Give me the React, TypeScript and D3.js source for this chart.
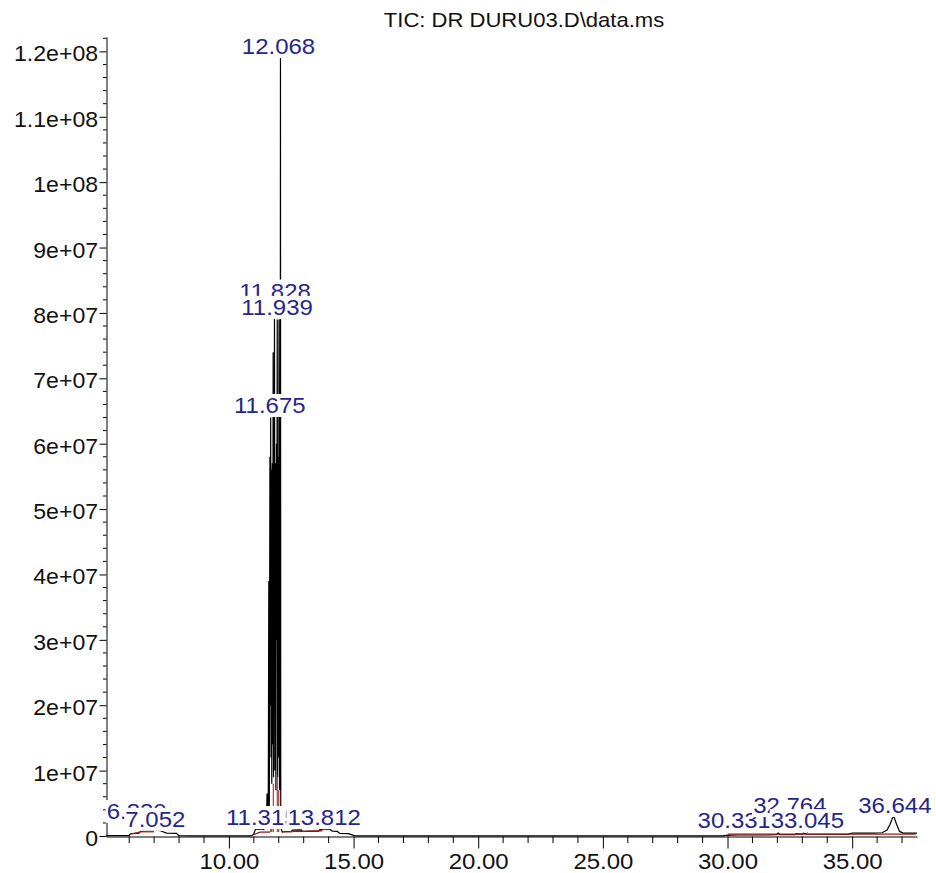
import React, { useEffect, useRef } from "react";
import * as d3 from "d3";

// TIC trace, retention time (min) vs abundance (millions of counts)
const retentionTimes = [
  5.07, 6.0, 6.05, 6.4, 6.45, 6.83, 6.95, 7.05, 7.25, 7.5, 7.9, 7.98, 8.5,
  10.9, 11.0, 11.05, 11.1, 11.2, 11.3, 11.4, 11.45, 11.48, 11.5, 11.53, 11.55, 11.58,
  11.6, 11.62, 11.645, 11.66, 11.675, 11.69, 11.705, 11.72, 11.74, 11.755, 11.775, 11.79,
  11.805, 11.815, 11.828, 11.845, 11.87, 11.885, 11.905, 11.917, 11.939, 11.955, 11.975,
  11.99, 12.01, 12.03, 12.045, 12.055, 12.068, 12.08, 12.1, 12.15, 12.2, 12.5, 12.55,
  12.9, 12.95, 13.6, 13.65, 14.05, 14.15, 14.35, 14.45, 14.8, 15.05,
  29.8, 29.95, 30.4, 31.5, 31.95, 32.03, 32.1, 32.7, 32.76, 33.0, 33.05, 33.2, 34.8,
  35.0, 35.9, 36.2, 36.4, 36.52, 36.62, 36.68, 36.78, 36.9, 37.05, 37.6,
];
const abundance = [
  0.05, 0.05, 0.35, 0.45, 0.75, 0.9, 0.85, 0.95, 0.8, 0.45, 0.4, 0.05, 0.02,
  0.02, 0.3, 0.9, 1.1, 1.0, 1.1, 1.0, 1.6, 4.5, 1.8, 6.5, 2.0, 6.5,
  39, 4, 58, 20, 64, 12, 56, 8, 57, 14, 74, 9,
  58, 25, 79.5, 10, 57, 7, 60, 30, 79, 9, 58,
  12, 79, 7, 40, 8, 119, 2, 1.0, 0.6, 0.65, 0.7, 0.9,
  0.95, 0.7, 0.75, 1.0, 1.0, 0.75, 0.7, 0.4, 0.35, 0.02,
  0.02, 0.1, 0.15, 0.15, 0.2, 0.45, 0.2, 0.2, 0.35, 0.3, 0.45, 0.3, 0.25,
  0.45, 0.45, 0.5, 0.9, 1.8, 2.8, 2.9, 1.8, 0.7, 0.45, 0.45,
];

// integration baselines [t0, v0, t1, v1]
const baselineSegments = [
  [6.03, 0.3, 6.45, 0.6],
  [6.45, 0.65, 7.0, 0.65],
  [11.0, 0.2, 11.25, 0.6],
  [11.25, 0.6, 11.65, 0.6],
  [12.1, 0.65, 12.55, 0.65],
  [12.55, 0.7, 13.1, 0.7],
  [13.1, 0.75, 13.75, 0.8],
  [13.75, 1.0, 14.05, 1.0],
  [30.0, 0.3, 37.55, 0.3],
];
const dropTimes = [11.68, 11.72, 11.78, 11.94, 12.0, 32.03, 33.2];
const dropTops = [1.5, 1.5, 8, 9.5, 7, 0.5, 0.5];

const peakLabels = ["6.830", "7.052", "11.315", "13.812", "11.675", "11.828", "11.939", "12.068", "30.331", "32.764", "33.045", "36.644"];
const peakLabelTimes = [6.3, 7.05, 11.32, 13.82, 11.64, 11.85, 11.93, 11.99, 30.27, 32.5, 33.2, 36.71];
const peakLabelLevels = [2.6, 1.4, 1.68, 1.7, 64.7, 82.2, 79.7, 119.6, 1.2, 3.5, 1.2, 3.5];

const xMajorTicks = [10, 15, 20, 25, 30, 35];
const xTickLabels = ["10.00", "15.00", "20.00", "25.00", "30.00", "35.00"];
const yMajorTicks = [0, 10, 20, 30, 40, 50, 60, 70, 80, 90, 100, 110, 120];
const yTickLabels = ["0", "1e+07", "2e+07", "3e+07", "4e+07", "5e+07", "6e+07", "7e+07", "8e+07", "9e+07", "1e+08", "1.1e+08", "1.2e+08"];
const chartTitle = "TIC: DR DURU03.D\\data.ms";

const FONT = "'Liberation Sans', Arial, sans-serif";
const STRETCH = "scale(1.09,1)"; // the original's text is a little wide

export default function App() {
  const ref = useRef<SVGSVGElement>(null);

  useEffect(() => {
    const svg = d3.select(ref.current);
    svg.selectAll("*").remove();

    const x = d3.scaleLinear().domain([5.07, 37.6]).range([106, 917]);
    const y = d3.scaleLinear().domain([0, 122.2]).range([836, 37]);

    svg.append("rect").attr("width", 936).attr("height", 873).attr("fill", "#fff");

    // title
    svg.append("text").attr("transform", "translate(524,27) scale(1.05,1)").attr("text-anchor", "middle")
      .attr("font-family", FONT).attr("font-size", 21).attr("fill", "#111").text(chartTitle);

    // y axis
    const yAxis = svg.append("g").attr("transform", "translate(106.5,0)")
      .call(d3.axisLeft(y).tickValues(yMajorTicks).tickFormat((d, i) => yTickLabels[i])
        .tickSize(7).tickSizeOuter(0).tickPadding(1));
    yAxis.selectAll("text").attr("font-family", FONT).attr("font-size", 22).attr("fill", "#111")
      .attr("dy", "0.43em").attr("transform", "scale(1.05,1)");
    yAxis.select(".domain").attr("stroke", "#000");
    const yMinor = d3.range(0, 123, 2).filter((v) => v % 10 !== 0);
    svg.append("g").selectAll("line").data(yMinor).enter().append("line")
      .attr("x1", 103).attr("x2", 106.5).attr("y1", (d) => y(d)).attr("y2", (d) => y(d)).attr("stroke", "#000");

    // x axis
    const xAxis = svg.append("g").attr("transform", "translate(0,836.5)")
      .call(d3.axisBottom(x).tickValues(xMajorTicks).tickFormat((d, i) => xTickLabels[i])
        .tickSize(12).tickSizeOuter(0).tickPadding(4.5));
    xAxis.selectAll("text").attr("font-family", FONT).attr("font-size", 22).attr("fill", "#111")
      .attr("transform", STRETCH);
    xAxis.select(".domain").attr("stroke", "#000");
    const xMinor = d3.range(6, 38, 1).filter((v) => v % 5 !== 0);
    svg.append("g").selectAll("line").data(xMinor).enter().append("line")
      .attr("x1", (d) => x(d)).attr("x2", (d) => x(d)).attr("y1", 836.5).attr("y2", 843).attr("stroke", "#000");

    // trace
    const pts = retentionTimes.map((t, i) => [t, abundance[i]] as [number, number]);
    const line = d3.line<[number, number]>().x((d) => x(d[0])).y((d) => y(d[1]));
    svg.append("path").attr("d", line(pts)).attr("fill", "none").attr("stroke", "#000").attr("stroke-width", 1.2);

    // integration baselines + drop lines
    const red = "#9b1b1b";
    svg.append("g").selectAll("line").data(baselineSegments).enter().append("line")
      .attr("x1", (d) => x(d[0])).attr("y1", (d) => y(d[1]))
      .attr("x2", (d) => x(d[2])).attr("y2", (d) => y(d[3]))
      .attr("stroke", red).attr("stroke-width", 1.3);
    svg.append("g").selectAll("line").data(dropTimes).enter().append("line")
      .attr("x1", (d) => x(d)).attr("x2", (d) => x(d))
      .attr("y1", y(0.6)).attr("y2", (d, i) => y(dropTops[i]))
      .attr("stroke", red).attr("stroke-width", 1);

    // peak labels, each with an opaque box that hides what it overlaps
    peakLabels.forEach((lab, i) => {
      const g = svg.append("g")
        .attr("transform", `translate(${x(peakLabelTimes[i])},${y(peakLabelLevels[i])}) ${STRETCH}`);
      const rect = g.append("rect").attr("fill", "#fff");
      const txt = g.append("text").attr("text-anchor", "middle").attr("font-family", FONT)
        .attr("font-size", 22).attr("fill", "#26268a").text(lab);
      const bb = (txt.node() as SVGTextElement).getBBox();
      rect.attr("x", bb.x - 1).attr("y", -19).attr("width", bb.width + 2).attr("height", 23);
    });
  }, []);

  return (
    <svg ref={ref} width={936} height={873} style={{ position: "absolute", left: 0, top: 0 }} />
  );
}
